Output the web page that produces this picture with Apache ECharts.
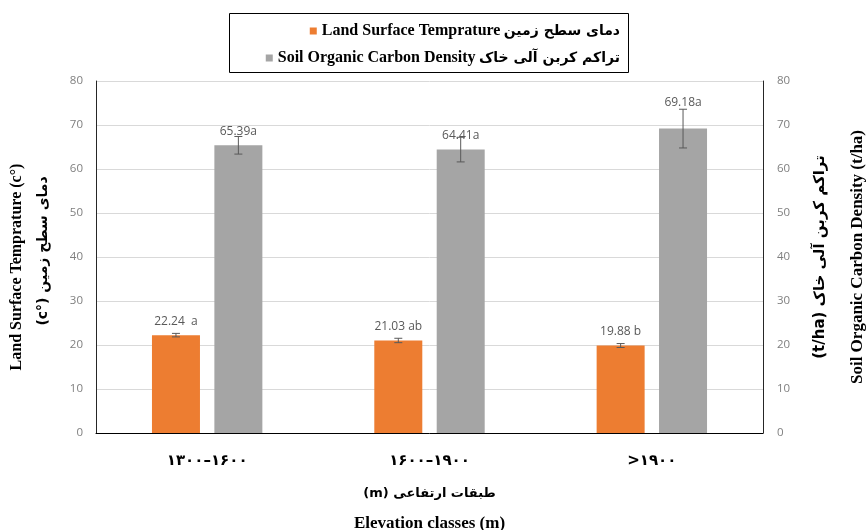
<!DOCTYPE html>
<html>
<head>
<meta charset="utf-8">
<script src="https://cdn.jsdelivr.net/npm/echarts@6/dist/echarts.min.js"></script>
<style>
  html, body { margin: 0; padding: 0; background: #fff; }
  #chart { width: 866px; height: 530px; }
</style>
</head>
<body>
<div id="chart"></div>
<script>
// Left-to-right mark keeps mixed Persian/Latin strings in left-to-right order
const LRM = '\u200E';

// Elevation classes (Persian digits)
const categories = ['۱۳۰۰–۱۶۰۰', '۱۶۰۰–۱۹۰۰', '>۱۹۰۰'];

// Land surface temperature (°C), standard error, significance letters
const lstValues = [22.24, 21.03, 19.88];
const lstErrors = [0.4, 0.5, 0.45];
const lstLetters = ['  a', ' ab', ' b'];

// Soil organic carbon density (t/ha), standard error, significance letters
const socValues = [65.39, 64.41, 69.18];
const socErrors = [2.0, 2.8, 4.4];
const socLetters = ['a', 'a', 'a'];

// Shared axis ticks for both value axes
const yMin = 0, yMax = 80, yStep = 10;

const LST_NAME = 'Land Surface Temprature';
const SOC_NAME = 'Soil Organic Carbon Density';
const faNames = {};
faNames[LST_NAME] = 'دمای سطح زمین';
faNames[SOC_NAME] = 'تراکم کربن آلی خاک';

const ORANGE = '#ED7D31';
const GREY = '#A5A5A5';
const BAR_W = 48;
const BAR_GAP = 0.3;

const serifBold = { fontFamily: 'Liberation Serif', fontWeight: 'bold', color: '#000' };
const faBold = { fontFamily: 'DejaVu Sans', fontWeight: 'bold', color: '#000' };

// Error bar drawn as an I-beam, shifted onto the matching bar of the pair
function errorBar(side) {
  const offset = side * BAR_W * (1 + BAR_GAP) / 2;
  return function (params, api) {
    const c = api.value(0), v = api.value(1), e = api.value(2);
    const hi = api.coord([c, v + e]);
    const lo = api.coord([c, v - e]);
    const x = hi[0] + offset;
    const cap = 4;
    const style = { stroke: '#595959', lineWidth: 1 };
    return {
      type: 'group',
      children: [
        { type: 'line', shape: { x1: x, y1: hi[1], x2: x, y2: lo[1] }, style: style },
        { type: 'line', shape: { x1: x - cap, y1: hi[1], x2: x + cap, y2: hi[1] }, style: style },
        { type: 'line', shape: { x1: x - cap, y1: lo[1], x2: x + cap, y2: lo[1] }, style: style }
      ]
    };
  };
}

function legendText(name) {
  return '{en|' + name + '} {fa|' + LRM + faNames[name] + '}';
}
const legendRich = {
  en: Object.assign({ fontSize: 16 }, serifBold),
  fa: Object.assign({ fontSize: 14 }, faBold)
};

const valueAxisBase = {
  type: 'value',
  min: yMin,
  max: yMax,
  interval: yStep,
  axisLine: { show: true, lineStyle: { color: '#262626', width: 1 } },
  axisTick: { show: false },
  nameLocation: 'middle',
  nameRotate: 90
};

const option = {
  backgroundColor: '#fff',
  animation: false,
  grid: { left: 96, right: 103, top: 81, bottom: 97, outerBoundsMode: 'none', containLabel: false },
  legend: [
    {
      data: [LST_NAME], right: 246, top: 23, padding: 0,
      icon: 'rect', itemWidth: 7, itemHeight: 7, itemGap: 0,
      formatter: legendText, textStyle: { rich: legendRich }
    },
    {
      data: [SOC_NAME], right: 246, top: 50, padding: 0,
      icon: 'rect', itemWidth: 7, itemHeight: 7, itemGap: 0,
      formatter: legendText, textStyle: { rich: legendRich }
    }
  ],
  graphic: [{
    type: 'rect', silent: true,
    shape: { x: 229.5, y: 13.5, width: 399, height: 59 },
    style: { fill: 'none', stroke: '#000', lineWidth: 1 }
  }],
  xAxis: {
    type: 'category',
    data: categories,
    axisLine: { show: true, lineStyle: { color: '#000', width: 1 } },
    axisTick: { show: false },
    axisLabel: {
      margin: 21,
      fontFamily: 'DejaVu Sans', fontWeight: 'bold', fontSize: 15, color: '#000',
      formatter: v => LRM + v
    },
    name: '{fa|' + LRM + '(m) طبقات ارتفاعی}\n{en|Elevation classes (m)}',
    nameLocation: 'middle',
    nameGap: 46,
    nameTextStyle: {
      rich: {
        fa: Object.assign({ fontSize: 13, lineHeight: 30 }, faBold),
        en: Object.assign({ fontSize: 17, lineHeight: 30 }, serifBold)
      }
    }
  },
  yAxis: [
    Object.assign({}, valueAxisBase, {
      position: 'left',
      splitLine: { show: true, lineStyle: { color: '#d9d9d9', width: 1 } },
      axisLabel: { margin: 13, fontFamily: 'Open Sans', fontSize: 11.5, color: '#7f7f7f' },
      name: '{en|Land Surface Temprature (c°)}\n{fa|' + LRM + '(c°) دمای سطح زمین}',
      nameGap: 40,
      nameTextStyle: {
        rich: {
          en: Object.assign({ fontSize: 16, lineHeight: 26, padding: [0, 20, 0, 0] }, serifBold),
          fa: Object.assign({ fontSize: 14, lineHeight: 26, padding: [0, 0, 0, 12] }, faBold)
        }
      }
    }),
    Object.assign({}, valueAxisBase, {
      position: 'right',
      splitLine: { show: false },
      axisLabel: { margin: 14, fontFamily: 'Open Sans', fontSize: 11.5, color: '#7f7f7f' },
      name: '{fa|' + LRM + '(t/ha) تراکم کربن آلی خاک}\n{en|Soil Organic Carbon Density (t/ha)}',
      nameGap: 38,
      nameTextStyle: {
        rich: {
          fa: Object.assign({ fontSize: 15, lineHeight: 38 }, faBold),
          en: Object.assign({ fontSize: 17, lineHeight: 38 }, serifBold)
        }
      }
    })
  ],
  series: [
    {
      name: LST_NAME,
      type: 'bar',
      yAxisIndex: 0,
      barWidth: BAR_W,
      barGap: (BAR_GAP * 100) + '%',
      itemStyle: { color: ORANGE },
      data: lstValues,
      label: {
        show: true, position: 'top', distance: 8,
        fontFamily: 'Open Sans', fontSize: 12, color: '#595959',
        formatter: p => lstValues[p.dataIndex].toFixed(2) + lstLetters[p.dataIndex]
      },
      z: 2
    },
    {
      name: SOC_NAME,
      type: 'bar',
      yAxisIndex: 1,
      barWidth: BAR_W,
      barGap: (BAR_GAP * 100) + '%',
      itemStyle: { color: GREY },
      data: socValues.map((v, i) => i === 2 ? { value: v, label: { distance: 20 } } : v),
      label: {
        show: true, position: 'top', distance: 8,
        fontFamily: 'Open Sans', fontSize: 12, color: '#595959',
        formatter: p => socValues[p.dataIndex].toFixed(2) + socLetters[p.dataIndex]
      },
      z: 2
    },
    {
      name: 'lst-error',
      type: 'custom',
      yAxisIndex: 0,
      renderItem: errorBar(-1),
      data: lstValues.map((v, i) => [i, v, lstErrors[i]]),
      z: 5
    },
    {
      name: 'soc-error',
      type: 'custom',
      yAxisIndex: 1,
      renderItem: errorBar(1),
      data: socValues.map((v, i) => [i, v, socErrors[i]]),
      z: 5
    }
  ]
};

const chart = echarts.init(document.getElementById('chart'), null, { renderer: 'canvas' });
chart.setOption(option);
</script>
</body>
</html>
